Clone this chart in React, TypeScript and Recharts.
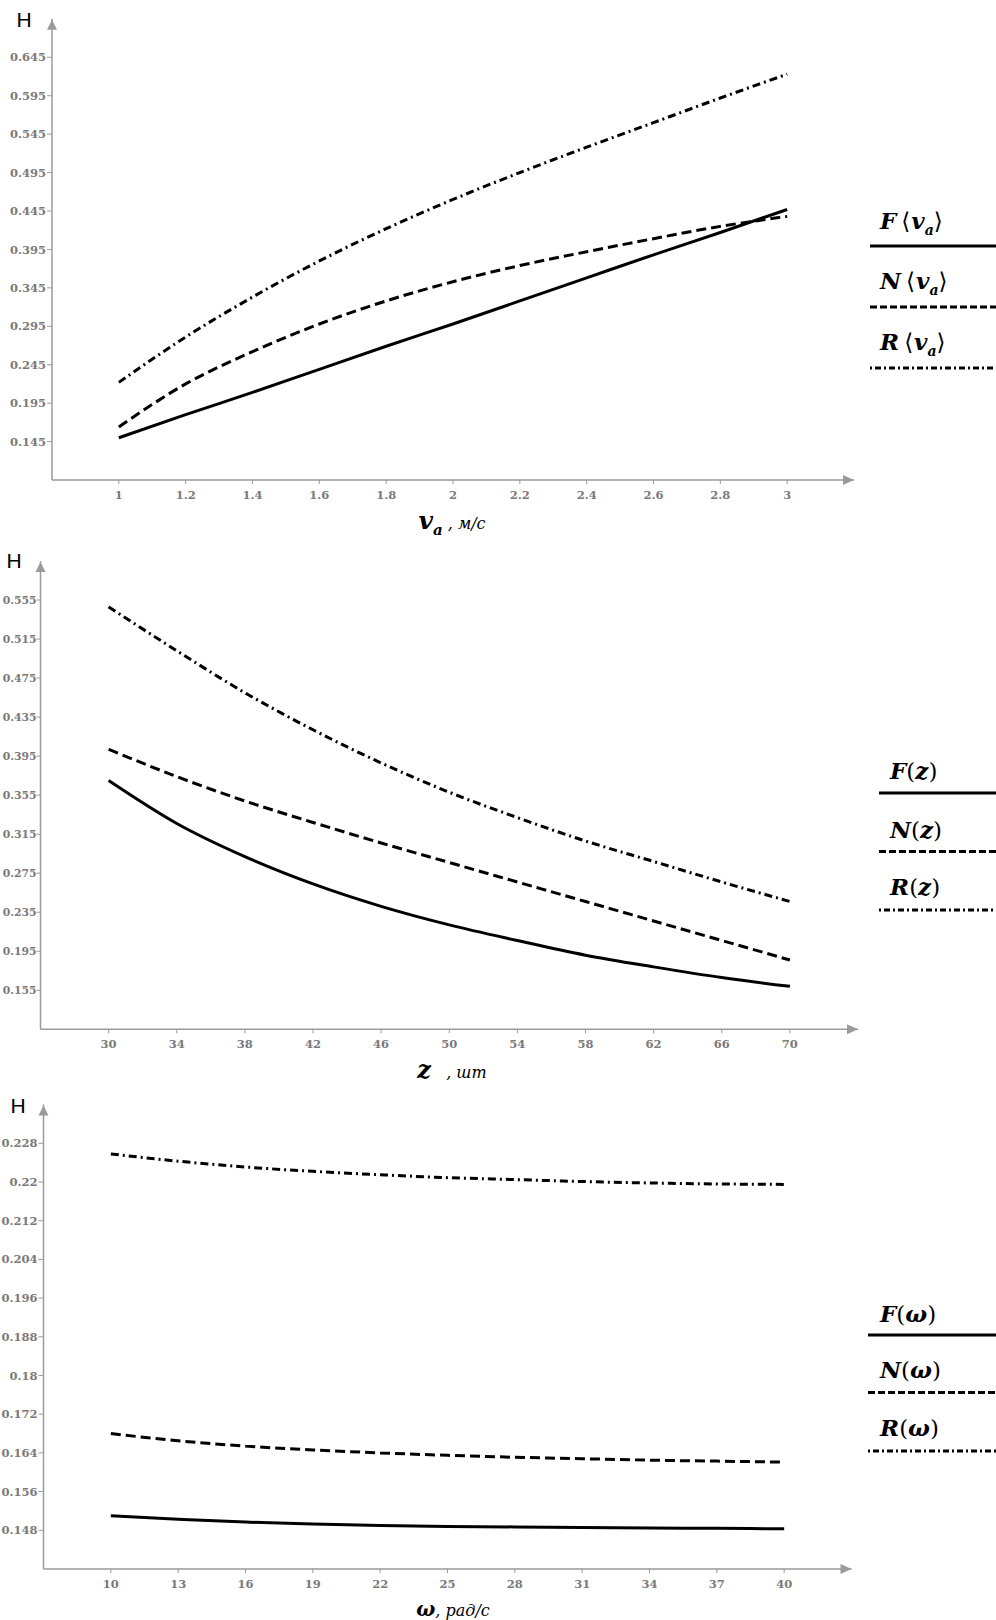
import React from 'react';
import { LineChart, Line, XAxis, YAxis, ReferenceDot } from 'recharts';

// ---------- Chart 1: H vs v_a ----------
const vaX = [1, 1.2, 1.4, 1.6, 1.8, 2, 2.2, 2.4, 2.6, 2.8, 3];
const vaF = [0.150, 0.180, 0.209, 0.239, 0.269, 0.298, 0.328, 0.358, 0.388, 0.417, 0.447];
const vaN = [0.164, 0.220, 0.262, 0.298, 0.328, 0.353, 0.374, 0.392, 0.409, 0.425, 0.438];
const vaR = [0.222, 0.281, 0.333, 0.380, 0.422, 0.460, 0.495, 0.528, 0.560, 0.592, 0.623];
const vaXTicks = [1, 1.2, 1.4, 1.6, 1.8, 2, 2.2, 2.4, 2.6, 2.8, 3];
const vaYTicks = [0.145, 0.195, 0.245, 0.295, 0.345, 0.395, 0.445, 0.495, 0.545, 0.595, 0.645];

// ---------- Chart 2: H vs z ----------
const zX = [30, 34, 38, 42, 46, 50, 54, 58, 62, 66, 70];
const zF = [0.370, 0.326, 0.292, 0.264, 0.241, 0.222, 0.206, 0.191, 0.179, 0.168, 0.159];
const zN = [0.402, 0.374, 0.349, 0.327, 0.306, 0.286, 0.266, 0.246, 0.226, 0.206, 0.186];
const zR = [0.548, 0.503, 0.460, 0.422, 0.388, 0.358, 0.332, 0.308, 0.287, 0.266, 0.246];
const zXTicks = [30, 34, 38, 42, 46, 50, 54, 58, 62, 66, 70];
const zYTicks = [0.155, 0.195, 0.235, 0.275, 0.315, 0.355, 0.395, 0.435, 0.475, 0.515, 0.555];

// ---------- Chart 3: H vs omega ----------
const wX = [10, 13, 16, 19, 22, 25, 28, 31, 34, 37, 40];
const wF = [0.1510, 0.1503, 0.1497, 0.1493, 0.1490, 0.1488, 0.1487, 0.1486, 0.1485, 0.1484, 0.1483];
const wN = [0.1680, 0.1665, 0.1654, 0.1646, 0.1640, 0.1635, 0.1631, 0.1628, 0.1625, 0.1623, 0.1621];
const wR = [0.2258, 0.2243, 0.2231, 0.2222, 0.2215, 0.2209, 0.2205, 0.2201, 0.2198, 0.2196, 0.2195];
const wXTicks = [10, 13, 16, 19, 22, 25, 28, 31, 34, 37, 40];
const wYTicks = [0.148, 0.156, 0.164, 0.172, 0.18, 0.188, 0.196, 0.204, 0.212, 0.22, 0.228];

const seriesStyles = [
  { key: 'F', dash: undefined as string | undefined, legendDash: undefined as string | undefined },
  { key: 'N', dash: '10 5', legendDash: '7 3' },
  { key: 'R', dash: '8 4 2 4', legendDash: '2 3 6 3' },
];

const build = (xs: number[], f: number[], n: number[], r: number[]) =>
  xs.map((x, i) => ({ x, F: f[i], N: n[i], R: r[i] }));

const AXIS = '#9a9a9a';
const tickText = (size: number) => ({
  fill: '#7a7a7a',
  fontFamily: 'DejaVu Serif',
  fontWeight: 'bold' as const,
  fontSize: size,
});

const fmt = (v: number) => String(Number(v.toFixed(4)));

const ArrowRight = (p: any) => (
  <polygon points={`${p.cx},${p.cy} ${p.cx - 11},${p.cy - 5} ${p.cx - 11},${p.cy + 5}`} fill={AXIS} />
);
const ArrowUp = (p: any) => (
  <polygon points={`${p.cx},${p.cy + 1} ${p.cx - 5},${p.cy + 11} ${p.cx + 5},${p.cy + 11}`} fill={AXIS} />
);

type BlockProps = {
  top: number;
  height: number;
  data: any[];
  xDomain: [number, number];
  yDomain: [number, number];
  xTicks: number[];
  yTicks: number[];
  margin: { top: number; right: number; bottom: number; left: number };
  yAxisWidth: number;
  yTickSize?: number;
  yTickFont?: number;
  yTickMargin?: number;
};

const ChartBlock = (p: BlockProps) => (
  <div style={{ position: 'absolute', left: 0, top: p.top }}>
    <LineChart width={996} height={p.height} data={p.data} margin={p.margin}>
      <XAxis
        type="number"
        dataKey="x"
        domain={p.xDomain}
        ticks={p.xTicks}
        allowDataOverflow
        tickFormatter={fmt}
        stroke={AXIS}
        axisLine={{ stroke: AXIS, strokeWidth: 1.5 }}
        tickLine={{ stroke: AXIS }}
        tickSize={4}
        tickMargin={6.5}
        tick={tickText(11.5)}
        height={30}
        interval={0}
      />
      <YAxis
        type="number"
        domain={p.yDomain}
        ticks={p.yTicks}
        allowDataOverflow
        tickFormatter={fmt}
        stroke={AXIS}
        axisLine={{ stroke: AXIS, strokeWidth: 1.5 }}
        tickLine={{ stroke: AXIS }}
        tickSize={p.yTickSize ?? 5}
        tickMargin={p.yTickMargin ?? 1}
        tick={tickText(p.yTickFont ?? 11.5)}
        width={p.yAxisWidth}
        interval={0}
      />
      {seriesStyles.map((s) => (
        <Line
          key={s.key}
          dataKey={s.key}
          type="monotone"
          stroke="#000"
          strokeWidth={3}
          strokeDasharray={s.dash}
          dot={false}
          activeDot={false}
          isAnimationActive={false}
        />
      ))}
      <ReferenceDot x={p.xDomain[1]} y={p.yDomain[0]} r={0} ifOverflow="visible" shape={ArrowRight} />
      <ReferenceDot x={p.xDomain[0]} y={p.yDomain[1]} r={0} ifOverflow="visible" shape={ArrowUp} />
    </LineChart>
  </div>
);

const serif = 'DejaVu Serif, Liberation Serif, serif';

const HLabel = ({ x, y }: { x: number; y: number }) => (
  <div
    style={{
      position: 'absolute',
      left: x - 10,
      top: y - 12,
      width: 20,
      height: 24,
      lineHeight: '24px',
      textAlign: 'center',
      fontFamily: 'Liberation Sans, Arial, sans-serif',
      fontSize: 21,
      color: '#000',
    }}
  >
    H
  </div>
);

const XLabel = ({ x, y, children }: { x: number; y: number; children: React.ReactNode }) => (
  <div
    style={{
      position: 'absolute',
      left: x - 100,
      top: y - 15,
      width: 200,
      height: 30,
      lineHeight: '30px',
      textAlign: 'center',
      fontFamily: serif,
      whiteSpace: 'nowrap',
    }}
  >
    {children}
  </div>
);

const LegendBlock = ({
  lineLeft,
  textLeft,
  textYs,
  lineYs,
  labels,
}: {
  lineLeft: number;
  textLeft: number;
  textYs: number[];
  lineYs: number[];
  labels: React.ReactNode[];
}) => (
  <>
    {labels.map((lab, i) => (
      <div
        key={'t' + i}
        style={{
          position: 'absolute',
          left: textLeft,
          top: textYs[i] - 16,
          height: 32,
          lineHeight: '32px',
          fontFamily: serif,
          fontSize: 23,
          whiteSpace: 'nowrap',
        }}
      >
        {lab}
      </div>
    ))}
    <svg
      style={{ position: 'absolute', left: 0, top: 0 }}
      width={996}
      height={1620}
    >
      {lineYs.map((y, i) => (
        <line
          key={'l' + i}
          x1={lineLeft}
          x2={996}
          y1={y}
          y2={y}
          stroke="#000"
          strokeWidth={3}
          strokeDasharray={seriesStyles[i].legendDash}
        />
      ))}
    </svg>
  </>
);

const BI = ({ children }: { children: React.ReactNode }) => (
  <span style={{ fontStyle: 'italic', fontWeight: 'bold' }}>{children}</span>
);

const vaLabel = (name: string) => (
  <span>
    <BI>{name}</BI>
    <span style={{ margin: '0 1px 0 5px' }}>⟨</span>
    <BI>v</BI>
    <sub style={{ fontSize: 14, fontStyle: 'italic', fontWeight: 'bold' }}>a</sub>
    <span>⟩</span>
  </span>
);
const argLabel = (name: string, arg: string) => (
  <span>
    <BI>{name}</BI>
    <span>(</span>
    <BI>{arg}</BI>
    <span>)</span>
  </span>
);

export default function App() {
  return (
    <div
      style={{
        position: 'absolute',
        left: 0,
        top: 0,
        width: 996,
        height: 1620,
        background: '#fff',
        overflow: 'hidden',
      }}
    >
      <ChartBlock
        top={0}
        height={545}
        data={build(vaX, vaF, vaN, vaR)}
        xDomain={[0.8, 3.2]}
        yDomain={[0.095, 0.695]}
        xTicks={vaXTicks}
        yTicks={vaYTicks}
        margin={{ top: 18.85, right: 142, bottom: 35, left: 0 }}
        yAxisWidth={52}
      />
      <ChartBlock
        top={545}
        height={545}
        data={build(zX, zF, zN, zR)}
        xDomain={[26, 74]}
        yDomain={[0.115, 0.595]}
        xTicks={zXTicks}
        yTicks={zYTicks}
        margin={{ top: 16, right: 138, bottom: 30.7, left: 0 }}
        yAxisWidth={40.5}
        yTickSize={4}
        yTickMargin={0}
        yTickFont={10.8}
      />
      <ChartBlock
        top={1090}
        height={530}
        data={build(wX, wF, wN, wR)}
        xDomain={[7, 43]}
        yDomain={[0.14, 0.236]}
        xTicks={wXTicks}
        yTicks={wYTicks}
        margin={{ top: 14.6, right: 144.5, bottom: 21, left: 0 }}
        yAxisWidth={43.5}
      />

      <HLabel x={24} y={20} />
      <HLabel x={14} y={561} />
      <HLabel x={18} y={1106} />

      <XLabel x={452} y={521}>
        <span style={{ fontStyle: 'italic', fontWeight: 'bold', fontSize: 25 }}>
          v<sub style={{ fontSize: 15 }}>a</sub>
        </span>
        <span style={{ fontStyle: 'italic', fontSize: 16 }}> , м/с</span>
      </XLabel>
      <XLabel x={452} y={1070}>
        <span style={{ fontStyle: 'italic', fontWeight: 'bold', fontSize: 24 }}>z</span>
        <span style={{ fontStyle: 'italic', fontSize: 16 }}>&nbsp;&nbsp; , шт</span>
      </XLabel>
      <XLabel x={453} y={1609}>
        <span style={{ fontStyle: 'italic', fontWeight: 'bold', fontSize: 20 }}>ω</span>
        <span style={{ fontStyle: 'italic', fontSize: 16 }}>, рад/с</span>
      </XLabel>

      <LegendBlock
        lineLeft={870}
        textLeft={880}
        textYs={[221, 281, 342]}
        lineYs={[246, 307, 368]}
        labels={[vaLabel('F'), vaLabel('N'), vaLabel('R')]}
      />
      <LegendBlock
        lineLeft={879}
        textLeft={890}
        textYs={[771, 830, 887]}
        lineYs={[793, 851.5, 910]}
        labels={[argLabel('F', 'z'), argLabel('N', 'z'), argLabel('R', 'z')]}
      />
      <LegendBlock
        lineLeft={868}
        textLeft={880}
        textYs={[1314, 1370, 1428]}
        lineYs={[1335, 1392.5, 1451]}
        labels={[argLabel('F', 'ω'), argLabel('N', 'ω'), argLabel('R', 'ω')]}
      />
    </div>
  );
}
